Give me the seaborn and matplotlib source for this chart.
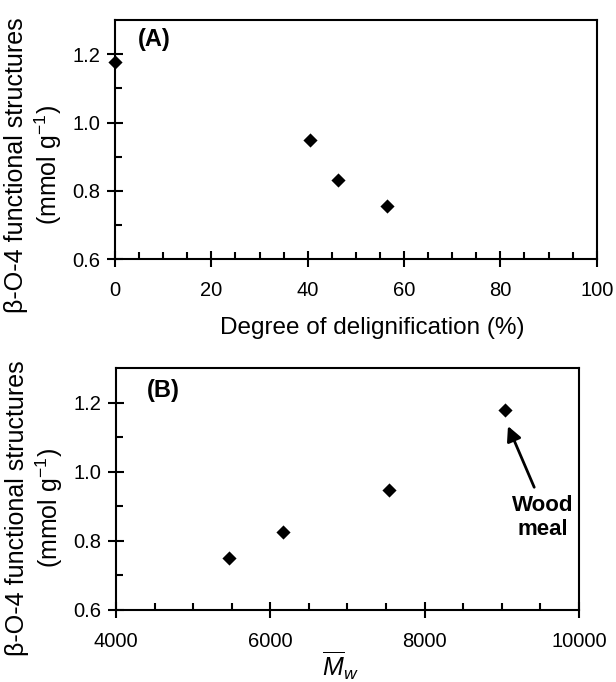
import matplotlib
matplotlib.use('Agg')
import matplotlib.pyplot as plt
import seaborn as sns
import pandas as pd

# data
delig = [0, 40.4, 46.3, 56.4]                  # degree of delignification (%)
beta_a = [1.178, 0.949, 0.831, 0.755]          # beta-O-4 (mmol/g), panel A
mw = [5470, 6170, 7535, 9045]                  # Mw
beta_b = [0.750, 0.826, 0.947, 1.179]          # beta-O-4 (mmol/g), panel B

ylabel = 'β-O-4 functional structures\n(mmol g$^{-1}$)'

sns.set_style('ticks')
plt.rcParams['font.family'] = ['Liberation Sans', 'DejaVu Sans']
plt.rcParams['mathtext.fontset'] = 'custom'
plt.rcParams['mathtext.rm'] = 'Liberation Sans'
plt.rcParams['mathtext.it'] = 'Liberation Sans:italic'
plt.rcParams['mathtext.bf'] = 'Liberation Sans:bold'
plt.rcParams['text.color'] = 'black'
plt.rcParams['axes.labelcolor'] = 'black'
plt.rcParams['xtick.color'] = 'black'
plt.rcParams['ytick.color'] = 'black'

fig = plt.figure(figsize=(6.16, 6.82), dpi=100)
ax1 = fig.add_axes([0.1867, 0.620, 0.782, 0.3504])
ax2 = fig.add_axes([0.1883, 0.1056, 0.7516, 0.3548])

dfa = pd.DataFrame({'x': delig, 'y': beta_a})
dfb = pd.DataFrame({'x': mw, 'y': beta_b})
sns.scatterplot(data=dfa, x='x', y='y', marker='D', s=52, color='black',
                edgecolor='black', linewidth=0, ax=ax1, clip_on=False, zorder=5)
sns.scatterplot(data=dfb, x='x', y='y', marker='D', s=52, color='black',
                edgecolor='black', linewidth=0, ax=ax2, clip_on=False, zorder=5)

def style(ax, xlim, xmaj, xmin):
    ax.set_xlim(*xlim)
    ax.set_ylim(0.6, 1.3)
    ax.set_xticks(xmaj)
    ax.set_xticks(xmin, minor=True)
    ax.set_yticks([0.6, 0.8, 1.0, 1.2])
    ax.set_yticks([0.7, 0.9, 1.1], minor=True)
    ax.set_yticklabels(['0.6', '0.8', '1.0', '1.2'])
    for s in ax.spines.values():
        s.set_linewidth(1.5)
        s.set_color('black')
    ax.tick_params(which='major', direction='inout', length=11, width=1.5,
                   labelsize=14.5, colors='black')
    ax.tick_params(axis='x', which='major', pad=10.5)
    ax.tick_params(axis='y', which='major', pad=5)
    ax.tick_params(which='minor', direction='in', length=5, width=1.5, colors='black')
    ax.set_ylabel(ylabel, fontsize=18, linespacing=1.2)

style(ax1, (0, 100), [0, 20, 40, 60, 80, 100], [v for v in range(5, 100, 5) if v % 20])
style(ax2, (4000, 10000), [4000, 6000, 8000, 10000], [4500, 5000, 5500, 6500, 7000, 7500, 8500, 9000, 9500])

ax1.set_xlabel('Degree of delignification (%)', fontsize=17.5)
ax1.xaxis.set_label_coords(0.535, -0.24)
ax1.yaxis.set_label_coords(-0.106, 0.393)
ax2.set_xlabel(r'$\overline{M}_w$', fontsize=18)
ax2.xaxis.set_label_coords(0.484, -0.165)
ax2.yaxis.set_label_coords(-0.11, 0.42)

ax1.text(4.8, 1.243, '(A)', fontsize=17, fontweight='bold', va='center', ha='left')
ax2.text(4400, 1.234, '(B)', fontsize=17, fontweight='bold', va='center', ha='left')

ax2.annotate('', xy=(9080, 1.132), xytext=(9420, 0.955),
             arrowprops=dict(arrowstyle='-|>', color='black', lw=2,
                             mutation_scale=22, shrinkA=0, shrinkB=0))
ax2.text(9530, 0.868, 'Wood\nmeal', fontsize=16, fontweight='bold',
         ha='center', va='center', linespacing=1.15)

fig.savefig('out.png', dpi=100)
